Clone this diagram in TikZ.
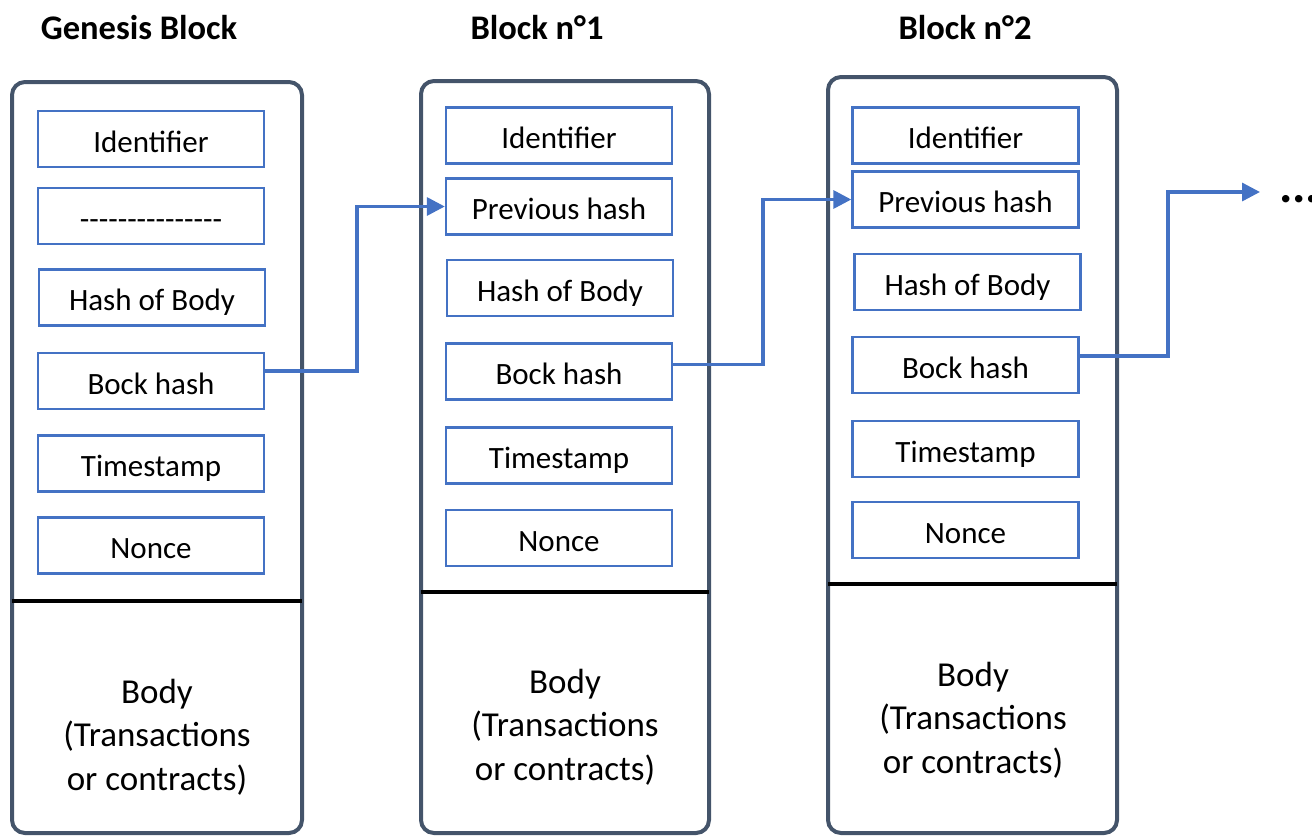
\documentclass[tikz,border=0pt]{standalone}
\usepackage{fontspec}
\setmainfont{Carlito}
\usetikzlibrary{arrows.meta}

\definecolor{frameslate}{HTML}{44546A}
\definecolor{fieldblue}{HTML}{4472C4}

\tikzset{
  frame/.style={draw=frameslate, line width=4pt, rounded corners=13pt},
  divider/.style={draw=black, line width=4pt},
  field/.style={draw=fieldblue, line width=2.4pt, rectangle, inner sep=0pt,
    minimum width=226pt, minimum height=56pt,
    text height=26pt, text depth=0pt,
    font=\fontsize{31}{37}\selectfont},
  title/.style={anchor=base, font=\bfseries\fontsize{34.5}{40}\selectfont},
  body/.style={align=center, font=\fontsize{35}{43.5}\selectfont},
  link/.style={draw=fieldblue, line width=3.4pt,
    -{Triangle[length=18pt,width=18pt]}},
}

\begin{document}
\begin{tikzpicture}[x=1pt,y=-1pt]
\useasboundingbox (0,0) rectangle (1312,836);

% ---------- Genesis block ----------
\node[title] (g-title) at (139,39) {Genesis Block};
\draw[frame] (12,82) rectangle (302,833);
\draw[divider] (12,601) -- (302,601);
\node[field] (g-id) at (151,139)   {Identifier};
\node[field] (g-ph) at (151,216)   {-{}-{}-{}-{}-{}-{}-{}-{}-{}-{}-{}-{}-{}-{}-};
\node[field] (g-hb) at (152,297.5) {Hash of Body};
\node[field] (g-bh) at (151,381)   {Bock hash};
\node[field] (g-ts) at (151,463.5) {Timestamp};
\node[field] (g-no) at (151,545.5) {Nonce};
\node[body]  (g-body) at (157,737) {Body\\(Transactions\\or contracts)};

% ---------- Block n°1 ----------
\node[title] (a-title) at (537,39) {Block n°1};
\draw[frame] (421,81) rectangle (709,833);
\draw[divider] (421,592) -- (709,592);
\node[field] (a-id) at (559,135.5) {Identifier};
\node[field] (a-ph) at (559,206.5) {Previous hash};
\node[field] (a-hb) at (560,288)   {Hash of Body};
\node[field] (a-bh) at (559,371.5) {Bock hash};
\node[field] (a-ts) at (559,455.5) {Timestamp};
\node[field] (a-no) at (559,538)   {Nonce};
\node[body]  (a-body) at (565,727) {Body\\(Transactions\\or contracts)};

% ---------- Block n°2 ----------
\node[title] (b-title) at (965,39) {Block n°2};
\draw[frame] (828,77) rectangle (1117,833);
\draw[divider] (828,584) -- (1117,584);
\node[field] (b-id) at (965.5,135.5) {Identifier};
\node[field] (b-ph) at (965.5,199.5) {Previous hash};
\node[field] (b-hb) at (967.5,282)   {Hash of Body};
\node[field] (b-bh) at (965.5,365)   {Bock hash};
\node[field] (b-ts) at (965.5,449)   {Timestamp};
\node[field] (b-no) at (965.5,530)   {Nonce};
\node[body]  (b-body) at (973,720) {Body\\(Transactions\\or contracts)};

% ---------- hash links ----------
\coordinate (j1) at (357,0);
\coordinate (j2) at (763,0);
\coordinate (j3) at (1168,0);
\coordinate (next) at (1260,192);
\coordinate (g-out) at ([yshift=10pt]g-bh.east);
\coordinate (a-out) at ([yshift=7pt]a-bh.east);
\coordinate (b-out) at ([yshift=9pt]b-bh.east);

\draw[link] (g-out) -- (g-out -| j1) -- (a-ph.west -| j1) -- (a-ph.west);
\draw[link] (a-out) -- (a-out -| j2) -- (b-ph.west -| j2) -- (b-ph.west);
\draw[link] (b-out) -- (b-out -| j3) -- (next -| j3) -- (next);

\node[anchor=base west, inner sep=0pt, font=\bfseries\fontsize{50}{56}\selectfont]
  (dots) at (1279,202) {...};
\end{tikzpicture}
\end{document}
